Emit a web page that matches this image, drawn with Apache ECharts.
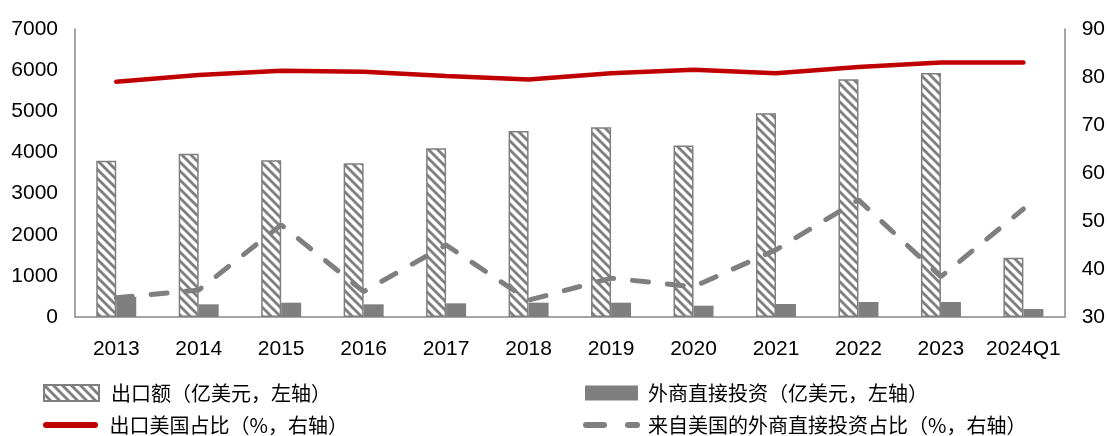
<!DOCTYPE html>
<html>
<head>
<meta charset="utf-8">
<script src="https://cdn.jsdelivr.net/npm/echarts@6/dist/echarts.min.js"></script>
<style>
html,body{margin:0;padding:0;background:#fff;}
#c{width:1108px;height:436px;}
</style>
</head>
<body>
<div id="c"></div>
<script>
var categories = ['2013','2014','2015','2016','2017','2018','2019','2020','2021','2022','2023','2024Q1'];
var exportValues = [3800, 3970, 3810, 3740, 4100, 4520, 4610, 4170, 4950, 5780, 5930, 1440];
var fdiValues = [490, 308, 348, 308, 332, 348, 348, 275, 316, 365, 365, 194];
var exportUSShare = [79.0, 80.4, 81.3, 81.1, 80.2, 79.5, 80.8, 81.5, 80.8, 82.1, 83.0, 83.0];
var fdiUSShare = [34.0, 35.6, 49.2, 35.3, 45.0, 33.5, 38.1, 36.3, 44.0, 54.4, 38.4, 52.5];
var seriesNames = ['出口额（亿美元，左轴）', '外商直接投资（亿美元，左轴）', '出口美国占比（%，右轴）', '来自美国的外商直接投资占比（%，右轴）'];

var gray = '#7f7f7f';
var red = '#c00000';

// hatch pattern
var tile = document.createElement('canvas');
var T = 9;
tile.width = T; tile.height = T;
var ctx = tile.getContext('2d');
ctx.fillStyle = '#fff';
ctx.fillRect(0, 0, T, T);
ctx.strokeStyle = gray;
ctx.lineWidth = 2.8;
ctx.lineCap = 'square';
for (var k = -1; k <= 1; k++) {
  ctx.beginPath();
  ctx.moveTo(k * T, 0);
  ctx.lineTo(k * T + T, T);
  ctx.stroke();
}
var hatch = { image: tile, repeat: 'repeat' };

var axisFont = 'Liberation Sans, Arial, sans-serif';
function legendText(padLeft) {
  return { fontFamily: 'Noto Sans CJK SC', fontSize: 20, color: '#000', padding: [0, 0, 0, padLeft] };
}
var redIcon = 'path://M3,0 H52 A3,3 0 0 1 52,6 H3 A3,3 0 0 1 3,0 Z';
var dashIcon = 'path://M3,0 H21 A3,3 0 0 1 21,6 H3 A3,3 0 0 1 3,0 Z M45,0 H54 A3,3 0 0 1 54,6 H45 A3,3 0 0 1 45,0 Z';

var chart = echarts.init(document.getElementById('c'), null, { renderer: 'canvas' });
chart.setOption({
  animation: false,
  backgroundColor: '#fff',
  grid: { left: 75, right: 42, top: 29, bottom: 119, containLabel: false },
  legend: [
    {
      data: [{ name: seriesNames[0], icon: 'rect' }],
      left: 38, top: 378, itemWidth: 55, itemHeight: 16,
      textStyle: legendText(7)
    },
    {
      data: [{ name: seriesNames[2], icon: redIcon }],
      left: 38, top: 410, itemWidth: 56, itemHeight: 6,
      textStyle: legendText(6)
    },
    {
      data: [{ name: seriesNames[1], icon: 'rect' }],
      left: 580, top: 378, itemWidth: 53, itemHeight: 15,
      textStyle: legendText(5)
    },
    {
      data: [{ name: seriesNames[3], icon: dashIcon }],
      left: 578, top: 410, itemWidth: 57, itemHeight: 6,
      textStyle: legendText(3)
    }
  ],
  xAxis: {
    type: 'category',
    data: categories,
    axisLine: { lineStyle: { color: '#898989', width: 1.5 } },
    axisTick: { show: false },
    axisLabel: { fontFamily: axisFont, fontSize: 21, color: '#000', margin: 22, interval: 0 }
  },
  yAxis: [
    {
      type: 'value', min: 0, max: 7000, interval: 1000,
      splitLine: { show: false },
      axisLine: { show: true, lineStyle: { color: '#898989', width: 1.5 } },
      axisTick: { show: false },
      axisLabel: { fontFamily: axisFont, fontSize: 21, color: '#000', margin: 17,
        formatter: function (v) { return String(v); } }
    },
    {
      type: 'value', min: 30, max: 90, interval: 10,
      splitLine: { show: false },
      axisLine: { show: true, lineStyle: { color: '#898989', width: 1.5 } },
      axisTick: { show: false },
      axisLabel: { fontFamily: axisFont, fontSize: 21, color: '#000', margin: 17,
        formatter: function (v) { return String(v); } }
    }
  ],
  series: [
    {
      name: seriesNames[0], type: 'bar', yAxisIndex: 0,
      data: exportValues, barWidth: 20, barGap: '0%',
      itemStyle: { color: hatch, borderColor: gray, borderWidth: 1.5 }
    },
    {
      name: seriesNames[1], type: 'bar', yAxisIndex: 0,
      data: fdiValues, barWidth: 20, barGap: '0%',
      itemStyle: { color: gray }
    },
    {
      name: seriesNames[2], type: 'line', yAxisIndex: 1,
      data: exportUSShare, symbol: 'none', z: 5,
      itemStyle: { color: red },
      lineStyle: { color: red, width: 4.5, cap: 'round' }
    },
    {
      name: seriesNames[3], type: 'line', yAxisIndex: 1,
      data: fdiUSShare, symbol: 'none', z: 5,
      itemStyle: { color: gray },
      lineStyle: { color: gray, width: 5, type: [16, 19], cap: 'round' }
    }
  ]
});
</script>
</body>
</html>
